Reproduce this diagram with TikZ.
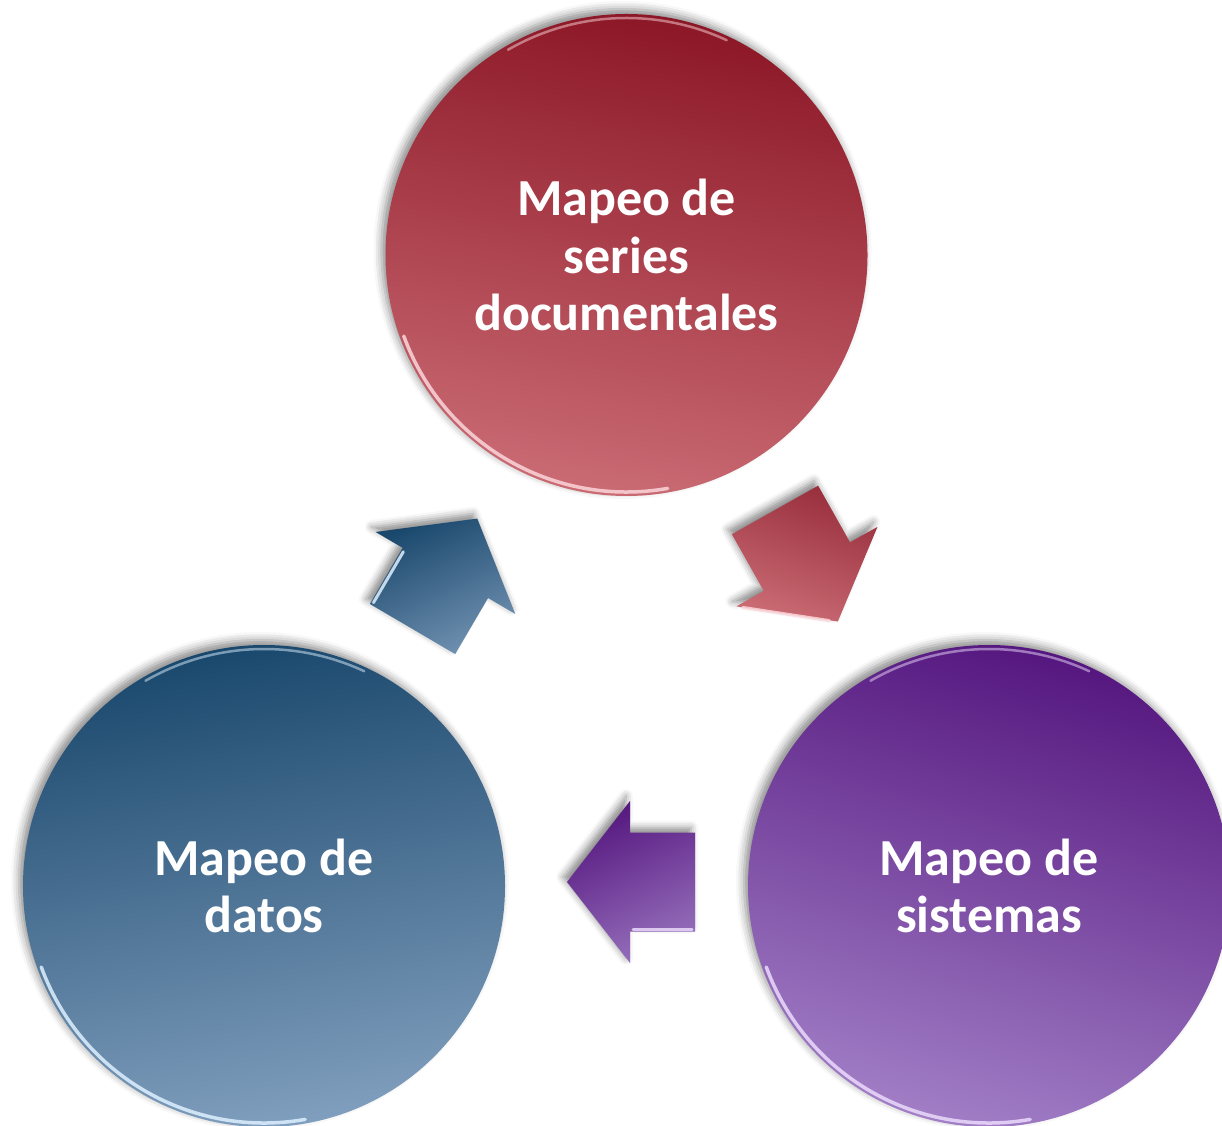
\documentclass[tikz,border=0pt]{standalone}
\usepackage{fontspec}
\setmainfont{Carlito}
\usetikzlibrary{shadows.blur}
\definecolor{redD}{HTML}{8C1726}
\definecolor{redL}{HTML}{CA6B74}
\definecolor{bluD}{HTML}{1A486D}
\definecolor{bluL}{HTML}{809EBD}
\definecolor{purD}{HTML}{55177F}
\definecolor{purL}{HTML}{A17EC6}
\definecolor{redRim}{HTML}{FBD6DA}
\definecolor{bluRim}{HTML}{DDF0FF}
\definecolor{purRim}{HTML}{EBDAFC}
\begin{document}
\begin{tikzpicture}[x=1pt,y=1pt,
  bubble/.style={circle, minimum size=482pt, inner sep=0pt, text=white, align=center,
    font=\fontsize{52}{57.5}\selectfont\bfseries,
    blur shadow={shadow xshift=-4pt, shadow yshift=5pt, shadow blur radius=8pt, shadow opacity=45}},
  blockarrow/.style={blur shadow={shadow xshift=-4pt, shadow yshift=5pt, shadow blur radius=7pt, shadow opacity=45}},
  rim/.style={line width=3.5pt, opacity=0.85, line cap=round},
  toprim/.style={line width=2.5pt, opacity=0.5, line cap=round},
  bevel/.style={line width=3pt, opacity=0.85, line cap=round}]
\useasboundingbox (0,0) rectangle (1222,1125);
\clip (0,0) rectangle (1222,1125);

% circles
\node[bubble, top color=redD, bottom color=redL, shading angle=-10] (red) at (626.5,870) {Mapeo de\\series\\documentales};
\node[bubble, top color=bluD, bottom color=bluL, shading angle=10] (blue) at (264,239) {Mapeo de\\datos};
\node[bubble, top color=purD, bottom color=purL, shading angle=-15] (purple) at (989,239) {Mapeo de\\sistemas};

% rim highlights
\draw[rim, redRim] ([shift={(200:237)}]red.center) arc (200:280:237);
\draw[toprim, redRim] ([shift={(65:237)}]red.center) arc (65:120:237);
\draw[rim, bluRim] ([shift={(200:237)}]blue.center) arc (200:280:237);
\draw[toprim, bluRim] ([shift={(65:237)}]blue.center) arc (65:120:237);
\draw[rim, purRim] ([shift={(200:237)}]purple.center) arc (200:280:237);
\draw[toprim, purRim] ([shift={(65:237)}]purple.center) arc (65:120:237);

% arrow outlines (local: base at origin, pointing along +x)
\foreach \nm/\sx/\sy/\ang in {ra/775/615/-60.6, pa/695/243/180, ba/412.5/496/59.6}{
  \begin{scope}[shift={(\sx,\sy)}, rotate=\ang]
    \coordinate (\nm-1) at (0,-49.5);
    \coordinate (\nm-2) at (65,-49.5);
    \coordinate (\nm-3) at (65,-81);
    \coordinate (\nm-4) at (128,0);
    \coordinate (\nm-5) at (65,81);
    \coordinate (\nm-6) at (65,49.5);
    \coordinate (\nm-7) at (0,49.5);
    % bevel highlight end points
    \coordinate (\nm-hr1) at (69,-76);
    \coordinate (\nm-hr2) at (123,-7);
    \coordinate (\nm-hl1) at (3,47);
    \coordinate (\nm-hl2) at (62,47);
  \end{scope}
}
\shade[blockarrow, top color=redD!90!white, bottom color=redL, shading angle=-20]
  (ra-1) -- (ra-2) -- (ra-3) -- (ra-4) -- (ra-5) -- (ra-6) -- (ra-7) -- cycle;
\shade[blockarrow, top color=purD, bottom color=purL!85!purD, shading angle=25]
  (pa-1) -- (pa-2) -- (pa-3) -- (pa-4) -- (pa-5) -- (pa-6) -- (pa-7) -- cycle;
\shade[blockarrow, top color=bluD, bottom color=bluL!85!bluD, shading angle=25]
  (ba-1) -- (ba-2) -- (ba-3) -- (ba-4) -- (ba-5) -- (ba-6) -- (ba-7) -- cycle;

% arrow bevel highlights
\draw[bevel, redRim] (ra-hr1) -- (ra-hr2);
\draw[bevel, purRim] (pa-hl1) -- (pa-hl2);
\draw[bevel, bluRim] (ba-hl1) -- (ba-hl2);
\end{tikzpicture}
\end{document}
